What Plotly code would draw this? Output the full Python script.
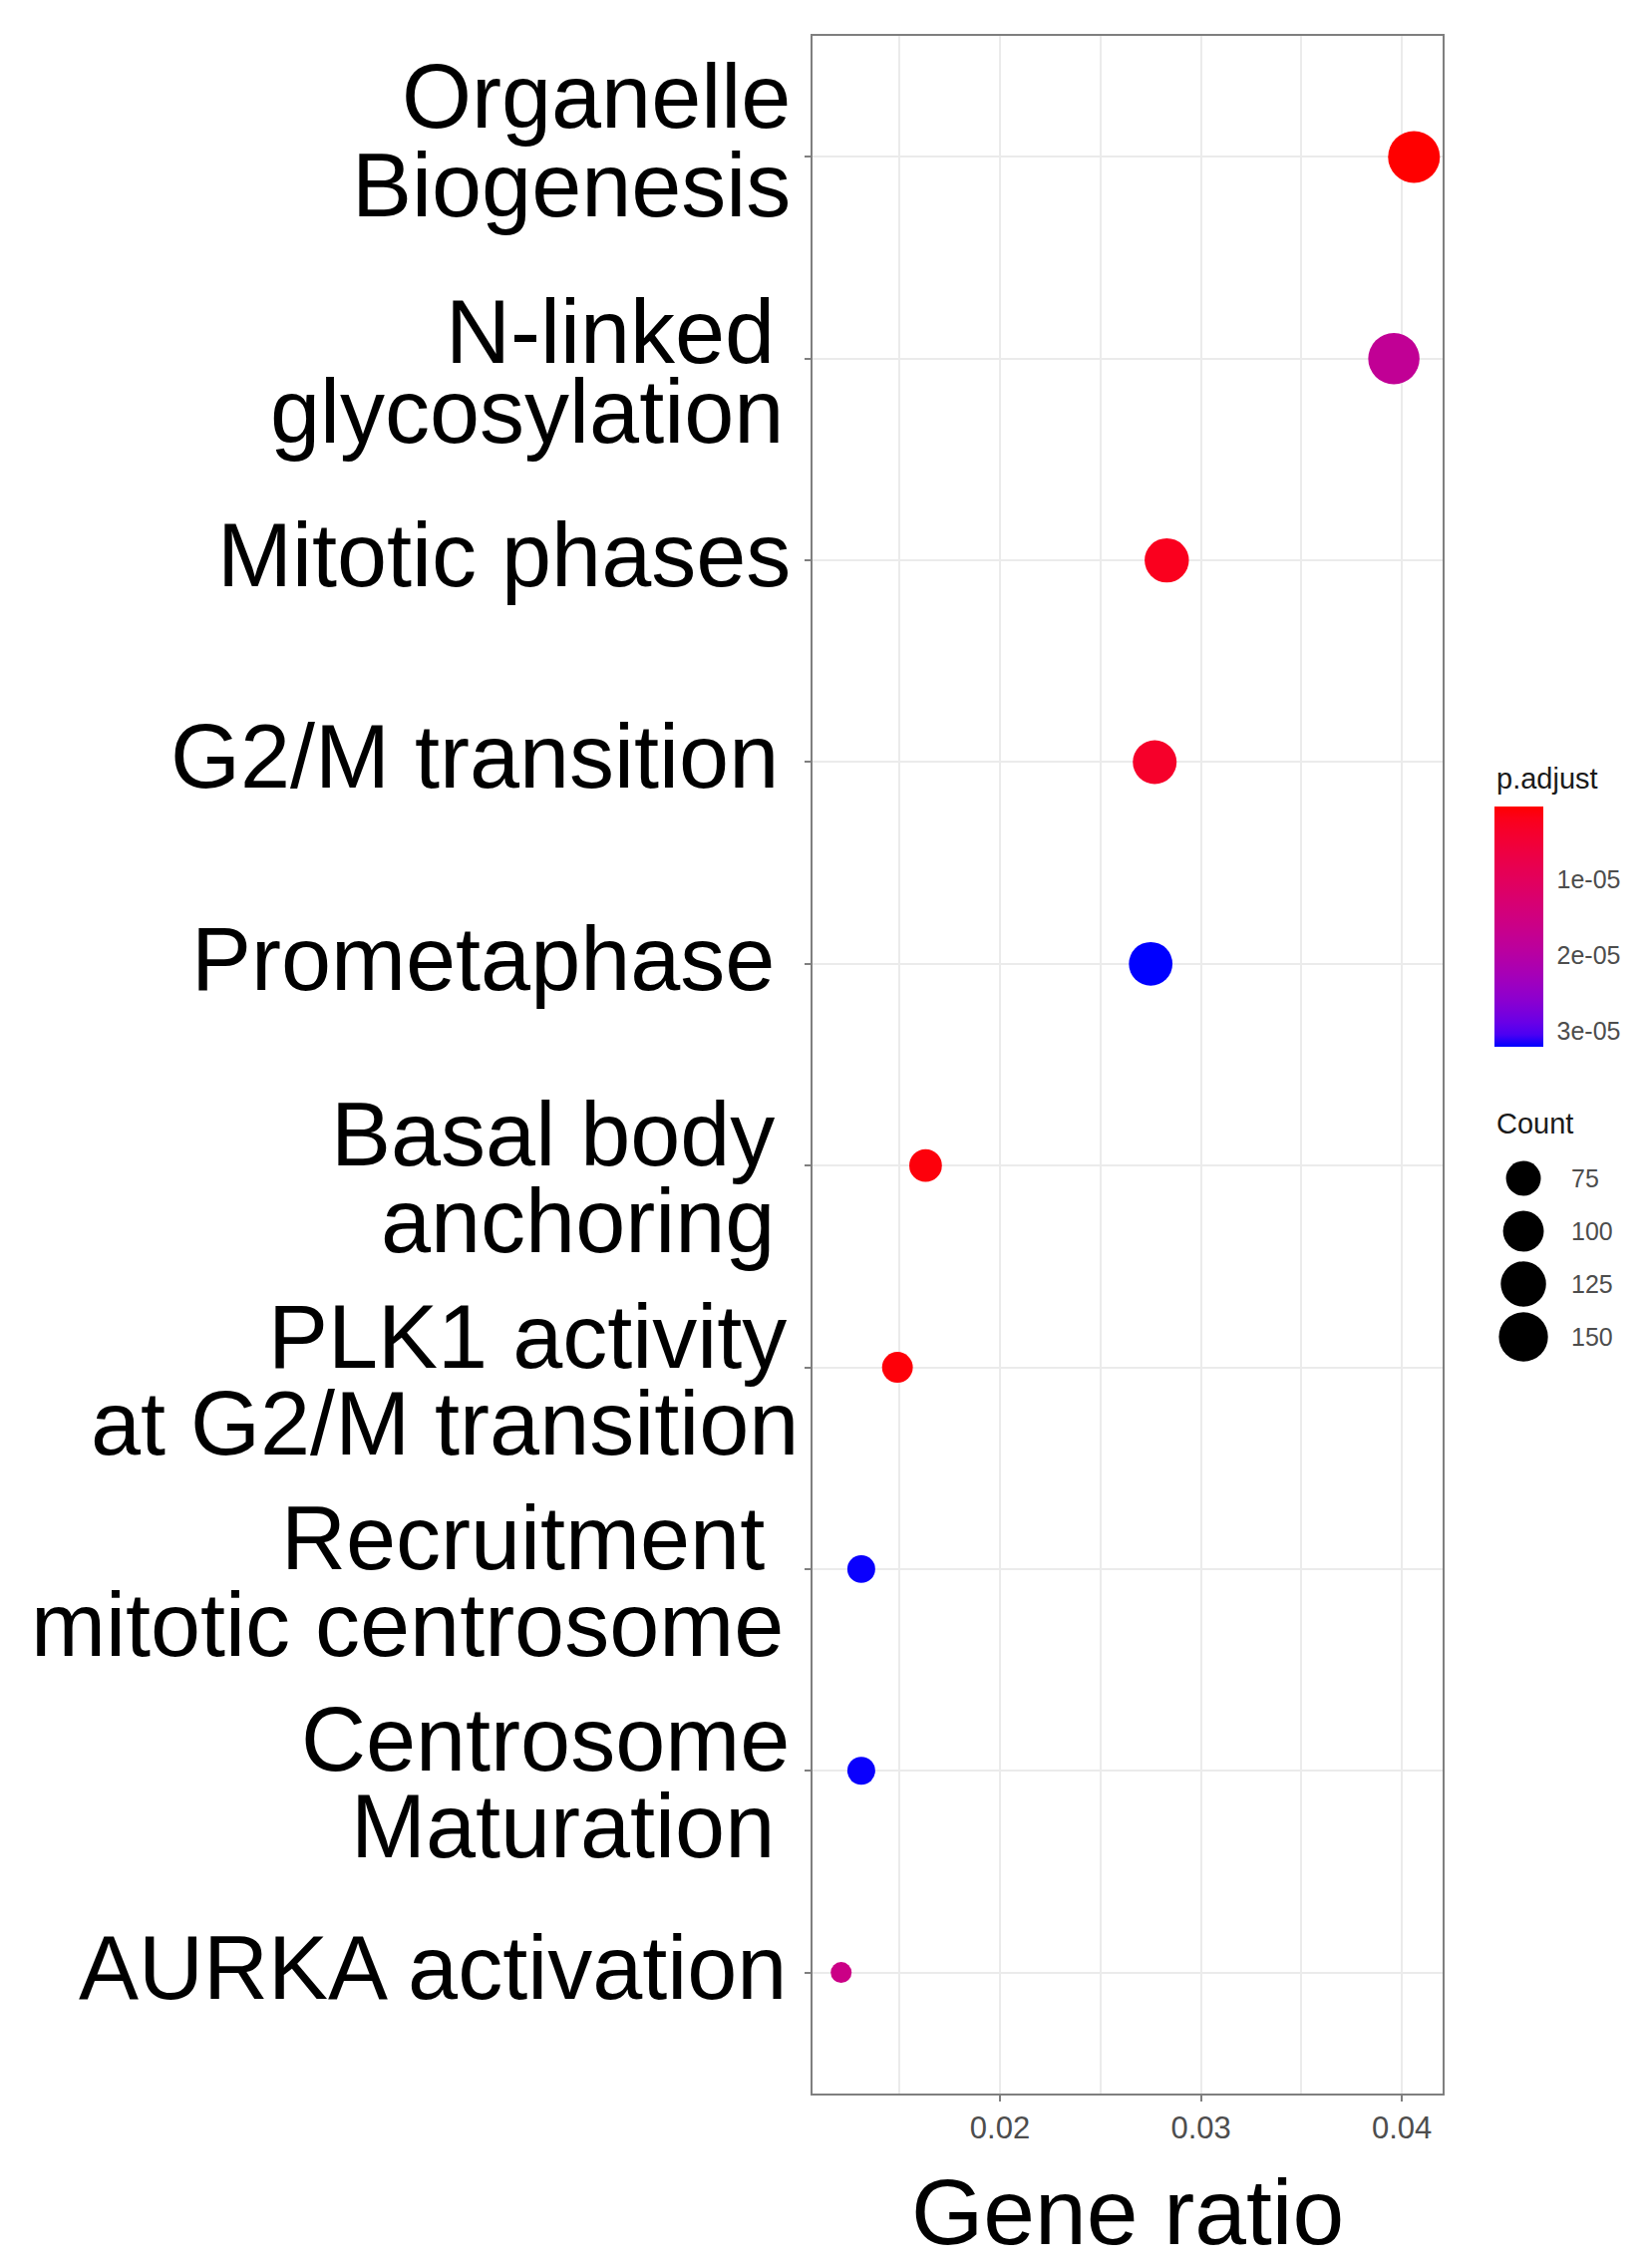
import plotly.graph_objects as go

# ---------------- data ----------------
terms = ["Organelle Biogenesis", "N-linked glycosylation", "Mitotic phases",
         "G2/M transition", "Prometaphase", "Basal body anchoring",
         "PLK1 activity at G2/M transition", "Recruitment mitotic centrosome",
         "Centrosome Maturation", "AURKA activation"]
term_labels = [["Organelle", "Biogenesis"], ["N-linked", "glycosylation"],
               ["Mitotic phases"], ["G2/M transition"], ["Prometaphase"],
               ["Basal body", "anchoring"], ["PLK1 activity", "at G2/M transition"],
               ["Recruitment", "mitotic centrosome"], ["Centrosome", "Maturation"],
               ["AURKA activation"]]
gene_ratio = [0.0406, 0.0396, 0.0283, 0.0277, 0.0275, 0.0163, 0.0149, 0.0131, 0.0131, 0.0121]
counts = [170, 166, 119, 116, 115, 68, 63, 57, 57, 51]
p_adjust = [4.6e-7, 1.8e-5, 2.4e-6, 3.6e-6, 3.2e-5, 1.1e-6, 1.0e-6, 3.18e-5, 3.18e-5, 1.6e-5]
count_breaks = [75, 100, 125, 150]
p_ticks = [1e-5, 2e-5, 3e-5]
p_tick_text = ["1e-05", "2e-05", "3e-05"]
x_ticks = [0.02, 0.03, 0.04]

# ---------------- style / layout ----------------
W, H = 1650, 2275
FONT = "Liberation Sans, Arial, sans-serif"
PANEL = dict(left=815, right=1447, top=36, bottom=2100)
SIZE_RANGE = (21, 52)
LOW_COL, HIGH_COL = (255, 0, 0), (0, 0, 255)
# vertical nudges (px, downward) of each label line relative to its tick
LINE_OFFSETS = {"Organelle Biogenesis": [-60, 29], "N-linked glycosylation": [-27, 53]}
TWO_LINE_DEFAULT = [-31, 56]
ONE_LINE_DEFAULT = [-5]
# horizontal nudges (px, rightward) of label lines, as placed in the reference
LINE_XSHIFT = {"N-linked": -16, "glycosylation": -7, "G2/M transition": -12,
               "Prometaphase": -16, "Basal body": -16, "anchoring": -16,
               "PLK1 activity": -4, "at G2/M transition": 8, "Recruitment": -26,
               "mitotic centrosome": -7, "Centrosome": -1, "Maturation": -16,
               "AURKA activation": -4}
LABEL_RIGHT = 795
LABEL_SIZE = 90


def _lin(c):
    c = c / 255.0
    return c / 12.92 if c <= 0.04045 else ((c + 0.055) / 1.055) ** 2.4


def _gam(c):
    c = 12.92 * c if c <= 0.0031308 else 1.055 * c ** (1 / 2.4) - 0.055
    return max(0, min(255, round(c * 255)))


def rgb2lab(rgb):
    r, g, b = (_lin(v) for v in rgb)
    X = (0.4124564 * r + 0.3575761 * g + 0.1804375 * b) / 0.95047
    Y = (0.2126729 * r + 0.7151522 * g + 0.0721750 * b)
    Z = (0.0193339 * r + 0.1191920 * g + 0.9503041 * b) / 1.08883
    f = lambda t: t ** (1 / 3) if t > 0.008856 else 7.787 * t + 16 / 116
    fx, fy, fz = f(X), f(Y), f(Z)
    return (116 * fy - 16, 500 * (fx - fy), 200 * (fy - fz))


def lab2rgb(lab):
    L, a, b = lab
    fy = (L + 16) / 116
    fx = fy + a / 500
    fz = fy - b / 200
    finv = lambda t: t ** 3 if t ** 3 > 0.008856 else (t - 16 / 116) / 7.787
    X, Y, Z = finv(fx) * 0.95047, finv(fy), finv(fz) * 1.08883
    r = 3.2404542 * X - 1.5371385 * Y - 0.4985314 * Z
    g = -0.9692660 * X + 1.8760108 * Y + 0.0415560 * Z
    bb = 0.0556434 * X - 0.2040259 * Y + 1.0572252 * Z
    return "rgb(%d,%d,%d)" % (_gam(r), _gam(g), _gam(bb))


la, lb = rgb2lab(LOW_COL), rgb2lab(HIGH_COL)
N = 20
scale = [[i / N, lab2rgb(tuple(la[k] + (lb[k] - la[k]) * i / N for k in range(3)))] for i in range(N + 1)]
scale_rev = [[1 - s, c] for s, c in reversed(scale)]

cmin_c, cmax_c = min(counts), max(counts)


def size_of(c):
    t = max(0.0, (c - cmin_c) / (cmax_c - cmin_c))
    return SIZE_RANGE[0] + (SIZE_RANGE[1] - SIZE_RANGE[0]) * t ** 0.5


xmin, xmax = min(gene_ratio), max(gene_ratio)
xpad = 0.05 * (xmax - xmin)
pmin, pmax = min(p_adjust), max(p_adjust)

fig = go.Figure()
fig.add_trace(go.Scatter(
    x=gene_ratio, y=terms, mode="markers",
    marker=dict(size=[size_of(c) for c in counts], color=p_adjust,
                colorscale=scale, cmin=pmin, cmax=pmax, showscale=False,
                line=dict(width=0), opacity=1),
    showlegend=False, hoverinfo="x+y"))

# colour bar (low values on top, as in the reference)
fig.add_trace(go.Scatter(
    x=gene_ratio, y=terms, mode="markers",
    marker=dict(size=1, opacity=0, color=[-p for p in p_adjust],
                colorscale=scale_rev, cmin=-pmax, cmax=-pmin, showscale=True,
                colorbar=dict(x=1499 / W, xanchor="left", y=1 - 929.5 / H, yanchor="middle",
                              len=241, lenmode="pixels", thickness=49, thicknessmode="pixels",
                              outlinewidth=0, xpad=0, ypad=0,
                              tickvals=[-v for v in p_ticks], ticktext=p_tick_text,
                              ticks="outside", tickcolor="white", ticklen=9, tickwidth=1,
                              tickfont=dict(size=25, color="#4D4D4D", family=FONT))),
    showlegend=False, hoverinfo="skip"))

# size legend on an auxiliary axis
legend_pos = list(range(len(count_breaks)))
fig.add_trace(go.Scatter(
    x=[0.206] * len(count_breaks), y=legend_pos, mode="markers",
    marker=dict(size=[size_of(c) for c in count_breaks], color="#000000", opacity=1,
                line=dict(width=0)),
    xaxis="x2", yaxis="y2", showlegend=False, hoverinfo="skip"))

annotations = []
for pos, c in zip(legend_pos, count_breaks):
    annotations.append(dict(x=0.53, y=pos, xref="x2", yref="y2", text=str(c),
                            showarrow=False, xanchor="left", yanchor="middle",
                            font=dict(size=25, color="#4D4D4D", family=FONT)))

for term, lines in zip(terms, term_labels):
    offs = LINE_OFFSETS.get(term, TWO_LINE_DEFAULT if len(lines) == 2 else ONE_LINE_DEFAULT)
    for line, off in zip(lines, offs):
        annotations.append(dict(x=LABEL_RIGHT / W, y=term, xref="paper", yref="y", text=line,
                                showarrow=False, xanchor="right", yanchor="middle", yshift=-off,
                                xshift=LINE_XSHIFT.get(line, 0),
                                font=dict(size=LABEL_SIZE, color="black", family=FONT)))

annotations.append(dict(x=(PANEL["left"] + PANEL["right"]) / 2 / W, y=1 - 2219 / H, xref="paper",
                        yref="paper", text="Gene ratio", showarrow=False, xanchor="center",
                        yanchor="middle", font=dict(size=93, color="black", family=FONT)))
annotations.append(dict(x=1499 / W, y=1 - 781 / H, xref="paper", yref="paper", text="p.adjust",
                        showarrow=False, xanchor="left", yanchor="middle",
                        font=dict(size=29, color="#1A1A1A", family=FONT)))
annotations.append(dict(x=1499 / W, y=1 - 1127 / H, xref="paper", yref="paper", text="Count",
                        showarrow=False, xanchor="left", yanchor="middle",
                        font=dict(size=29, color="#1A1A1A", family=FONT)))

axis_line = dict(showline=True, mirror=True, linecolor="#7F7F7F", linewidth=1.6,
                 ticks="outside", ticklen=6, tickwidth=1.6, tickcolor="#7F7F7F",
                 gridcolor="#EBEBEB", gridwidth=1.5, zeroline=False)

fig.update_layout(
    width=W, height=H, margin=dict(l=0, r=0, t=0, b=0),
    paper_bgcolor="white", plot_bgcolor="white",
    font=dict(family=FONT),
    xaxis=dict(domain=[PANEL["left"] / W, PANEL["right"] / W],
               range=[xmin - xpad, xmax + xpad], tickvals=x_ticks,
               tickformat=".2f", tickfont=dict(size=31, color="#4D4D4D", family=FONT),
               minor=dict(dtick=0.005, tick0=0, showgrid=True, gridcolor="#EBEBEB", gridwidth=1.5,
                          ticks=""),
               **axis_line),
    yaxis=dict(domain=[1 - PANEL["bottom"] / H, 1 - PANEL["top"] / H],
               type="category", categoryorder="array", categoryarray=terms[::-1],
               range=[-0.6, len(terms) - 0.4], showticklabels=False, **axis_line),
    xaxis2=dict(domain=[1499 / W, 1640 / W], range=[0, 1], visible=False, anchor="y2"),
    yaxis2=dict(domain=[1 - 1367.5 / H, 1 - 1155.5 / H], type="linear",
                range=[len(count_breaks) - 0.5, -0.5], visible=False, anchor="x2"),
    annotations=annotations,
)

fig.write_html("out.html", config={"displayModeBar": False},
               post_script="document.body.style.margin='0';document.body.style.overflow='hidden';")
